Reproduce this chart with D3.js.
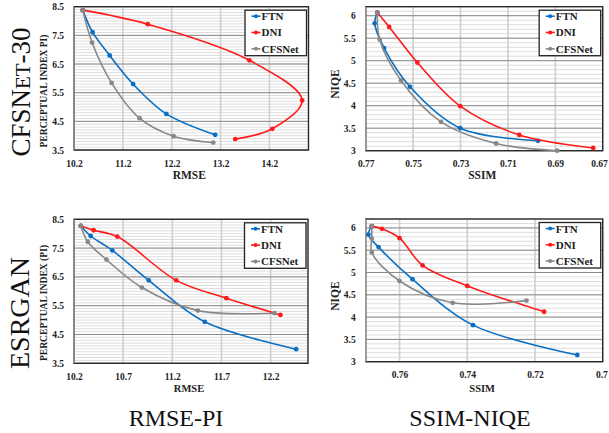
<!DOCTYPE html>
<html>
<head>
<meta charset="utf-8">
<script src="https://cdn.jsdelivr.net/npm/d3@7"></script>
<style>
  body { margin: 0; background: #fff; }
  text { font-family: "Liberation Serif", "DejaVu Serif", serif; }
  .tick text { font-weight: bold; font-size: 9.5px; fill: #222; }
</style>
</head>
<body>
<script>
var width = 609;
var height = 433;

var series = ["FTN", "DNI", "CFSNet"];
var colors = ["#0a6fc2", "#ff1a1a", "#888888"];

// CFSNet-30: RMSE vs perceptual index
var cfsPiFtn = [[10.38, 8.38], [10.58, 7.61], [10.93, 6.80], [11.41, 5.80], [12.09, 4.76], [13.09, 4.03]];
var cfsPiDni = [[10.38, 8.38], [11.71, 7.89], [13.79, 6.63], [14.87, 5.23], [14.26, 4.24], [13.50, 3.88]];
var cfsPiCfs = [[10.38, 8.38], [10.57, 7.25], [10.97, 5.84], [11.54, 4.61], [12.24, 3.98], [13.05, 3.76]];

// CFSNet-30: SSIM vs NIQE
var cfsNqFtn = [[0.7651, 6.07], [0.7662, 5.83], [0.7622, 5.28], [0.7513, 4.42], [0.7301, 3.50], [0.6973, 3.22]];
var cfsNqDni = [[0.7651, 6.07], [0.7601, 5.75], [0.7482, 4.96], [0.7301, 3.99], [0.7052, 3.35], [0.6740, 3.06]];
var cfsNqCfs = [[0.7651, 6.07], [0.7641, 5.47], [0.7551, 4.56], [0.7382, 3.64], [0.7150, 3.16], [0.6892, 3.00]];

// ESRGAN: RMSE vs perceptual index
var esrPiFtn = [[10.27, 8.27], [10.37, 7.92], [10.59, 7.42], [10.96, 6.38], [11.53, 4.94], [12.46, 3.99]];
var esrPiDni = [[10.27, 8.27], [10.40, 8.12], [10.64, 7.90], [11.24, 6.38], [11.75, 5.76], [12.30, 5.18]];
var esrPiCfs = [[10.27, 8.27], [10.34, 7.72], [10.53, 7.10], [10.89, 6.13], [11.46, 5.33], [12.24, 5.24]];

// ESRGAN: SSIM vs NIQE
var esrNqFtn = [[0.7682, 6.04], [0.7692, 5.85], [0.7662, 5.57], [0.7562, 4.85], [0.7383, 3.82], [0.7075, 3.15]];
var esrNqDni = [[0.7682, 6.04], [0.7652, 5.98], [0.7600, 5.77], [0.7532, 5.16], [0.7400, 4.70], [0.7173, 4.12]];
var esrNqCfs = [[0.7682, 6.04], [0.7682, 5.76], [0.7682, 5.45], [0.7600, 4.81], [0.7443, 4.32], [0.7225, 4.37]];

// tick labels
var rmseTicksTop = [10.2, 11.2, 12.2, 13.2, 14.2];
var rmseTicksBot = [10.2, 10.7, 11.2, 11.7, 12.2];
var piTicks = [3.5, 4.5, 5.5, 6.5, 7.5, 8.5];
var ssimTicksTop = [0.77, 0.75, 0.73, 0.71, 0.69, 0.67];
var ssimTicksBot = [0.76, 0.74, 0.72, 0.7];
var niqeTicks = [3, 3.5, 4, 4.5, 5, 5.5, 6];

var svg = d3.select("body").append("svg")
    .attr("width", width)
    .attr("height", height);

var panels = [
    { left: 74, right: 308.5, top: 6.7, bottom: 150, xdom: [10.2, 15.0], ydom: [3.5, 8.5],
      xticks: rmseTicksTop, yticks: piTicks, data: [cfsPiFtn, cfsPiDni, cfsPiCfs],
      xtitle: "RMSE", xtitleY: 179, xtitleSize: 11.5, ytitle: "PERCEPTUAL INDEX PI)", ytitleX: 47, ytitleY: 91 },
    { left: 365.7, right: 602.7, top: 6.7, bottom: 150.7, xdom: [0.77, 0.67], ydom: [3, 6.2],
      xticks: ssimTicksTop, yticks: niqeTicks, data: [cfsNqFtn, cfsNqDni, cfsNqCfs],
      xtitle: "SSIM", xtitleY: 179, xtitleSize: 11.5, ytitle: "NIQE", ytitleX: 339, ytitleY: 84 },
    { left: 74, right: 308, top: 219.3, bottom: 363.3, xdom: [10.2, 12.58], ydom: [3.5, 8.5],
      xticks: rmseTicksBot, yticks: piTicks, data: [esrPiFtn, esrPiDni, esrPiCfs],
      xtitle: "RMSE", xtitleY: 392, xtitleSize: 10.5, ytitle: "PERCEPTUAL INDEX (PI)", ytitleX: 47, ytitleY: 303 },
    { left: 365.7, right: 602.7, top: 219, bottom: 361.7, xdom: [0.77, 0.70], ydom: [3, 6.2],
      xticks: ssimTicksBot, yticks: niqeTicks, data: [esrNqFtn, esrNqDni, esrNqCfs],
      xtitle: "SSIM", xtitleY: 392, xtitleSize: 10.5, ytitle: "NIQE", ytitleX: 339, ytitleY: 296 }
];

var fmt = d3.format("~g");

panels.forEach(function(p) {
    var x = d3.scaleLinear().domain(p.xdom).range([p.left, p.right]);
    var y = d3.scaleLinear().domain(p.ydom).range([p.bottom, p.top]);
    var g = svg.append("g");

    // minor horizontal grid every 0.1
    var minor = d3.range(Math.round(p.ydom[0] * 10), Math.round(p.ydom[1] * 10) + 1).map(function(v) { return v / 10; });
    g.append("g").selectAll("line").data(minor).enter().append("line")
        .attr("x1", p.left).attr("x2", p.right)
        .attr("y1", function(d) { return y(d); }).attr("y2", function(d) { return y(d); })
        .attr("stroke", "#d4d4d4").attr("stroke-width", 0.8);

    // vertical grid at labelled x ticks
    g.append("g").selectAll("line").data(p.xticks).enter().append("line")
        .attr("x1", function(d) { return x(d); }).attr("x2", function(d) { return x(d); })
        .attr("y1", p.top).attr("y2", p.bottom)
        .attr("stroke", "#cfcfcf").attr("stroke-width", 1.6);

    // major horizontal grid
    g.append("g").selectAll("line").data(p.yticks).enter().append("line")
        .attr("x1", p.left).attr("x2", p.right)
        .attr("y1", function(d) { return y(d); }).attr("y2", function(d) { return y(d); })
        .attr("stroke", "#8a8a8a").attr("stroke-width", 1);

    // plot frame
    g.append("rect")
        .attr("x", p.left).attr("y", p.top)
        .attr("width", p.right - p.left).attr("height", p.bottom - p.top)
        .attr("fill", "none").attr("stroke", "#2a2a2a").attr("stroke-width", 1.4);
    g.append("line")
        .attr("x1", p.left).attr("x2", p.left).attr("y1", p.top).attr("y2", p.bottom)
        .attr("stroke", "#9a9a9a").attr("stroke-width", 1.4);

    // axes
    var xa = g.append("g").attr("transform", "translate(0," + p.bottom + ")")
        .call(d3.axisBottom(x).tickValues(p.xticks).tickSize(0).tickPadding(10).tickFormat(fmt));
    xa.select(".domain").remove();
    // keep the last label inside the page
    xa.selectAll(".tick").each(function() {
        var t = d3.select(this).select("text");
        var b = this.getBBox();
        var m = this.getCTM();
        var right = m.e + b.x + b.width;
        if (right > width - 1) t.attr("dx", (width - 1 - right) + "px");
    });
    var ya = g.append("g").attr("transform", "translate(" + p.left + ",0)")
        .call(d3.axisLeft(y).tickValues(p.yticks).tickSize(0).tickPadding(10).tickFormat(fmt));
    ya.select(".domain").remove();

    g.append("text")
        .attr("x", (p.left + p.right) / 2 - 2).attr("y", p.xtitleY)
        .attr("text-anchor", "middle")
        .attr("font-weight", "bold").attr("font-size", p.xtitleSize)
        .attr("fill", "#222")
        .text(p.xtitle);

    g.append("text")
        .attr("transform", "translate(" + p.ytitleX + "," + p.ytitleY + ") rotate(-90)")
        .attr("text-anchor", "middle")
        .attr("font-weight", "bold").attr("font-size", p.ytitle.length > 6 ? 9.6 : 11.5)
        .attr("fill", "#222")
        .text(p.ytitle);

    // lines
    var line = d3.line()
        .x(function(d) { return x(d[0]); })
        .y(function(d) { return y(d[1]); })
        .curve(d3.curveCatmullRom.alpha(0.5));

    p.data.forEach(function(pts, i) {
        g.append("path")
            .attr("d", line(pts))
            .attr("fill", "none")
            .attr("stroke", colors[i])
            .attr("stroke-width", 1.6);
        g.append("g").selectAll("circle").data(pts).enter().append("circle")
            .attr("cx", function(d) { return x(d[0]); })
            .attr("cy", function(d) { return y(d[1]); })
            .attr("r", 2.4)
            .attr("fill", colors[i]);
    });

    // legend
    var lx = p.right - 63.5, ly = p.top + 3.5;
    var lg = g.append("g").attr("transform", "translate(" + lx + "," + ly + ")");
    lg.append("rect")
        .attr("width", 61.5).attr("height", 45.5)
        .attr("fill", "#fff").attr("stroke", "#222").attr("stroke-width", 1.3);
    series.forEach(function(s, i) {
        var yy = 6 + i * 16.3;
        lg.append("line")
            .attr("x1", 6.5).attr("x2", 15.5).attr("y1", yy).attr("y2", yy)
            .attr("stroke", colors[i]).attr("stroke-width", 1.6);
        lg.append("circle").attr("cx", 11).attr("cy", yy).attr("r", 2).attr("fill", colors[i]);
        lg.append("text")
            .attr("x", 16.5).attr("y", yy + 4)
            .attr("font-weight", "bold").attr("font-size", 11)
            .attr("fill", "#222")
            .text(s);
    });
});

// row labels
var row1 = svg.append("text")
    .attr("transform", "translate(30,92) rotate(-90)")
    .attr("text-anchor", "middle")
    .attr("font-size", 27)
    .attr("fill", "#111");
row1.append("tspan").text("CFSN");
row1.append("tspan").attr("font-size", 21).text("ET");
row1.append("tspan").text("-30");

svg.append("text")
    .attr("transform", "translate(29,313) rotate(-90)")
    .attr("text-anchor", "middle")
    .attr("font-size", 28)
    .attr("fill", "#111")
    .text("ESRGAN");

// column labels
svg.append("text")
    .attr("x", 176).attr("y", 426)
    .attr("text-anchor", "middle").attr("font-size", 24).attr("fill", "#111")
    .text("RMSE-PI");
svg.append("text")
    .attr("x", 470).attr("y", 426)
    .attr("text-anchor", "middle").attr("font-size", 24).attr("fill", "#111")
    .text("SSIM-NIQE");
</script>
</body>
</html>
